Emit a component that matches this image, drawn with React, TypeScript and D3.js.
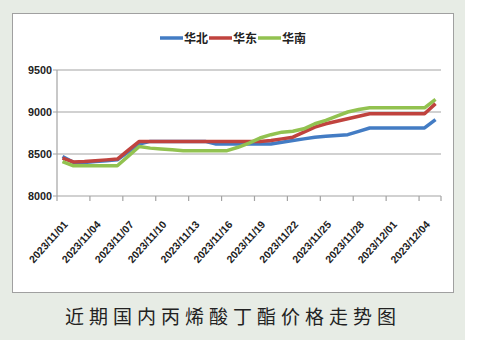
import React from 'react';
import * as d3 from 'd3';

const dates = [
  '2023/11/01', '2023/11/02', '2023/11/03', '2023/11/04', '2023/11/05', '2023/11/06', '2023/11/07',
  '2023/11/08', '2023/11/09', '2023/11/10', '2023/11/11', '2023/11/12', '2023/11/13', '2023/11/14',
  '2023/11/15', '2023/11/16', '2023/11/17', '2023/11/18', '2023/11/19', '2023/11/20', '2023/11/21',
  '2023/11/22', '2023/11/23', '2023/11/24', '2023/11/25', '2023/11/26', '2023/11/27', '2023/11/28',
  '2023/11/29', '2023/11/30', '2023/12/01', '2023/12/02', '2023/12/03', '2023/12/04', '2023/12/05',
];

const north = [
  8470, 8400, 8400, 8410, 8420, 8430, 8525, 8620, 8650, 8650, 8650, 8650, 8650, 8650,
  8620, 8620, 8620, 8620, 8620, 8620, 8640, 8660, 8680, 8700, 8710, 8720, 8730, 8770,
  8810, 8810, 8810, 8810, 8810, 8810, 8910,
];
const east = [
  8450, 8405, 8410, 8420, 8430, 8440, 8545, 8650, 8650, 8650, 8650, 8650, 8650, 8650,
  8650, 8650, 8650, 8650, 8650, 8660, 8680, 8700, 8760, 8820, 8860, 8890, 8920, 8950,
  8980, 8980, 8980, 8980, 8980, 8980, 9100,
];
const south = [
  8410, 8360, 8360, 8360, 8360, 8360, 8475, 8590, 8570, 8560, 8550, 8540, 8540, 8540,
  8540, 8540, 8580, 8630, 8690, 8730, 8760, 8770, 8800, 8860, 8900, 8950, 9000, 9030,
  9050, 9050, 9050, 9050, 9050, 9050, 9150,
];

const seriesNames = ['华北', '华东', '华南'];
const seriesColors = ['#437cc4', '#c0433e', '#92c250'];
const yTicks = [8000, 8500, 9000, 9500];
const title = '近期国内丙烯酸丁酯价格走势图';

export default function App() {
  const left = 57, right = 441, top = 70, bottom = 196;
  const x = d3.scaleBand().domain(dates).range([left, right]);
  const y = d3.scaleLinear().domain([8000, 9500]).range([bottom, top]);
  const line = d3.line<number>()
    .x((_, i) => x(dates[i])! + x.bandwidth() / 2)
    .y(v => y(v));
  const all = [north, east, south];
  const labelDates = dates.filter((_, i) => i % 3 === 0);
  const tickIdx = d3.range(0, dates.length, 3);

  return (
    <svg width={479} height={362} style={{ position: 'absolute', left: 0, top: 0 }}>
      <rect x={0} y={0} width={465} height={340} fill="#e7ece5" />
      <rect x={12.5} y={13.5} width={441} height={279} fill="#fff" stroke="#a0a0a0" strokeWidth={1} />

      {/* gridlines */}
      {yTicks.map(t => (
        <g key={t}>
          <line x1={left - 4} x2={right} y1={y(t)} y2={y(t)} stroke="#a3a3a3" strokeWidth={1.2} />
          <text x={52} y={y(t) + 4} textAnchor="end" fontFamily="Liberation Sans, Arial" fontWeight="bold"
            fontSize={11} fill="#222" textLength={24} lengthAdjust="spacingAndGlyphs">{t}</text>
        </g>
      ))}
      <line x1={left} x2={left} y1={top} y2={bottom} stroke="#a3a3a3" strokeWidth={1.2} />
      {tickIdx.map(i => (
        <line key={i} x1={x(dates[i])} x2={x(dates[i])} y1={bottom} y2={bottom + 5} stroke="#a3a3a3" strokeWidth={1.2} />
      ))}
      <line x1={right} x2={right} y1={bottom} y2={bottom + 5} stroke="#a3a3a3" strokeWidth={1.2} />

      {labelDates.map(d => {
        const cx = x(d)! + x.bandwidth() / 2 + 6;
        const cy = bottom + 29;
        return (
          <text key={d} transform={`translate(${cx},${cy}) rotate(-48)`} textAnchor="end"
            fontFamily="Liberation Sans, Arial" fontWeight="bold" fontSize={10.5} fill="#222">{d}</text>
        );
      })}

      {all.map((s, k) => (
        <path key={k} d={line(s)!} fill="none" stroke={seriesColors[k]} strokeWidth={3.5} strokeLinejoin="round" />
      ))}

      {/* legend */}
      {seriesNames.map((n, k) => {
        const lx = 160 + k * 49;
        return (
          <g key={n}>
            <line x1={lx} x2={lx + 23} y1={38} y2={38} stroke={seriesColors[k]} strokeWidth={3.5} />
            <text x={lx + 24} y={43} fontFamily="Noto Sans CJK SC" fontWeight="bold" fontSize={12} fill="#222">{n}</text>
          </g>
        );
      })}

      <text x={233} y={324} textAnchor="middle" fontFamily="Noto Sans CJK SC" fontSize={19} letterSpacing={5}
        fill="#222">{title}</text>
    </svg>
  );
}
